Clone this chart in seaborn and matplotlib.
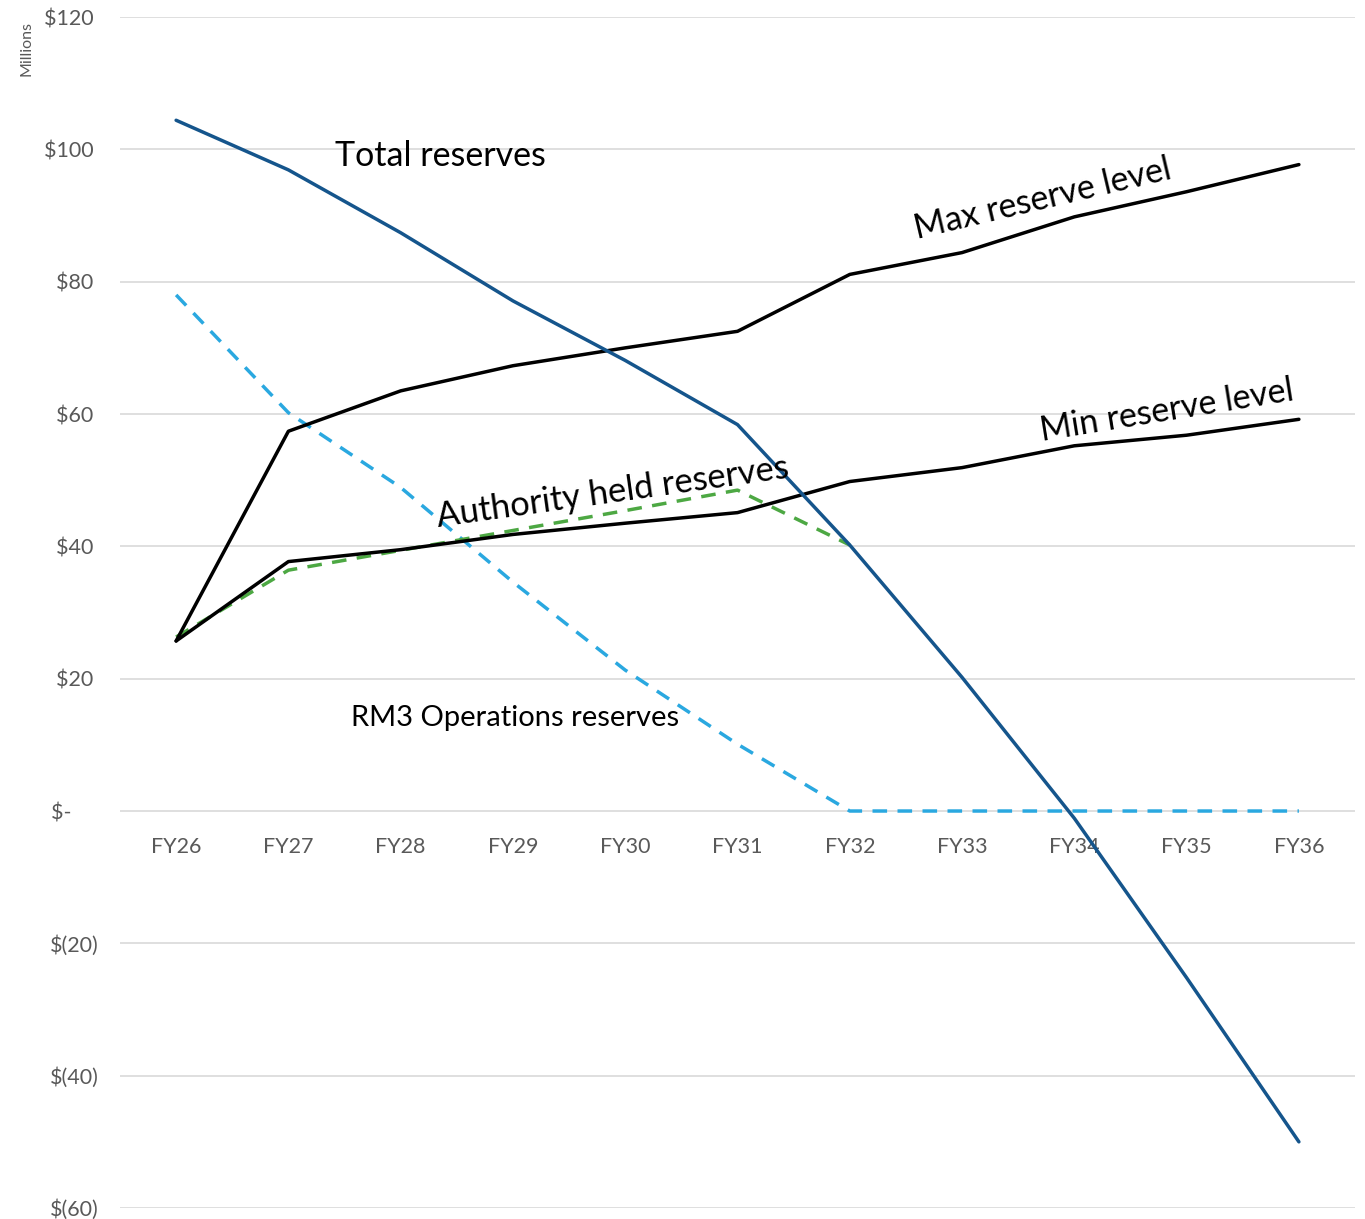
import matplotlib
matplotlib.use("Agg")
import matplotlib.pyplot as plt
import seaborn as sns
import pandas as pd
import numpy as np

years = ["FY26", "FY27", "FY28", "FY29", "FY30", "FY31", "FY32", "FY33", "FY34", "FY35", "FY36"]
total_reserves = [104.4, 96.9, 87.4, 77.1, 68.1, 58.4, 40.2, 20.2, -1.1, -25.2, -50.0]
max_reserve = [25.7, 57.4, 63.5, 67.3, 70.0, 72.5, 81.1, 84.4, 89.8, 93.6, 97.7]
min_reserve = [25.7, 37.7, 39.5, 41.8, 43.5, 45.1, 49.8, 51.9, 55.2, 56.8, 59.2]
authority_held = [26.3, 36.4, 39.4, 42.4, 45.4, 48.5, 40.2]
rm3_operations = [78.0, 60.2, 48.9, 34.6, 21.3, 10.1, 0.0, 0.0, 0.0, 0.0, 0.0]
y_ticks = [120, 100, 80, 60, 40, 20, 0, -20, -40, -60]
y_tick_labels = ["$120 ", "$100 ", "$80 ", "$60 ", "$40 ", "$20 ", "$-     ", "$(20)", "$(40)", "$(60)"]

sns.set_theme(style="white")
plt.rcParams["font.family"] = ["Lato", "DejaVu Sans"]

fig = plt.figure(figsize=(13.65, 12.19), dpi=100)
ax = fig.add_axes([0.0879, 0.00902, 0.9048, 0.977])

pos = np.arange(len(years))

def frame(values):
    return pd.DataFrame({"x": pos[:len(values)], "y": values})

lw = 2.5
sns.lineplot(data=frame(rm3_operations), x="x", y="y", ax=ax, color="#2AA8E0",
             lw=lw, zorder=3).lines[-1].set_dashes([4.2, 3.0])
sns.lineplot(data=frame(authority_held), x="x", y="y", ax=ax, color="#4DA843",
             lw=lw, zorder=3).lines[-1].set_dashes([4.2, 3.0])
sns.lineplot(data=frame(max_reserve), x="x", y="y", ax=ax, color="black", lw=lw, zorder=4)
sns.lineplot(data=frame(min_reserve), x="x", y="y", ax=ax, color="black", lw=lw, zorder=4)
sns.lineplot(data=frame(total_reserves), x="x", y="y", ax=ax, color="#15558C", lw=lw, zorder=5)

ax.set_xlim(-0.5, len(years) - 0.5)
ax.set_ylim(-60, 120)
ax.set_yticks(y_ticks)
ax.set_yticklabels(y_tick_labels)
ax.set_xticks(pos)
ax.set_xticklabels(years)
ax.grid(axis="y", color="#D9D9D9", lw=1.2)
ax.set_axisbelow(True)
for s in ["top", "right", "left"]:
    ax.spines[s].set_visible(False)
ax.spines["bottom"].set_position(("data", 0))
ax.spines["bottom"].set_visible(False)
ax.tick_params(axis="both", length=0, labelsize=15.5, colors="#595959")
ax.tick_params(axis="x", pad=19)
ax.tick_params(axis="y", pad=15)
ax.set_xlabel("")
ax.set_ylabel("")

fig.text(27 / 1365, 1 - 48 / 1219, "Millions", rotation=90, fontsize=11.5,
         color="#595959", ha="center", va="center")

ax.text(2.35, 99.0, "Total reserves", ha="center", va="center", fontsize=24.5, color="black", zorder=6)
ax.text(7.72, 92.5, "Max reserve level", ha="center", va="center", rotation=13.3,
        fontsize=24.5, color="black", zorder=6)
ax.text(8.82, 60.5, "Min reserve level", ha="center", va="center", rotation=9.2,
        fontsize=24.5, color="black", zorder=6)
ax.text(3.89, 48.2, "Authority held reserves", ha="center", va="center", rotation=8.0,
        fontsize=24.8, color="black", zorder=6)
ax.text(3.02, 14.0, "RM3 Operations reserves", ha="center", va="center",
        fontsize=21, color="black", zorder=6)

fig.savefig("out.png", dpi=100, facecolor="white")
